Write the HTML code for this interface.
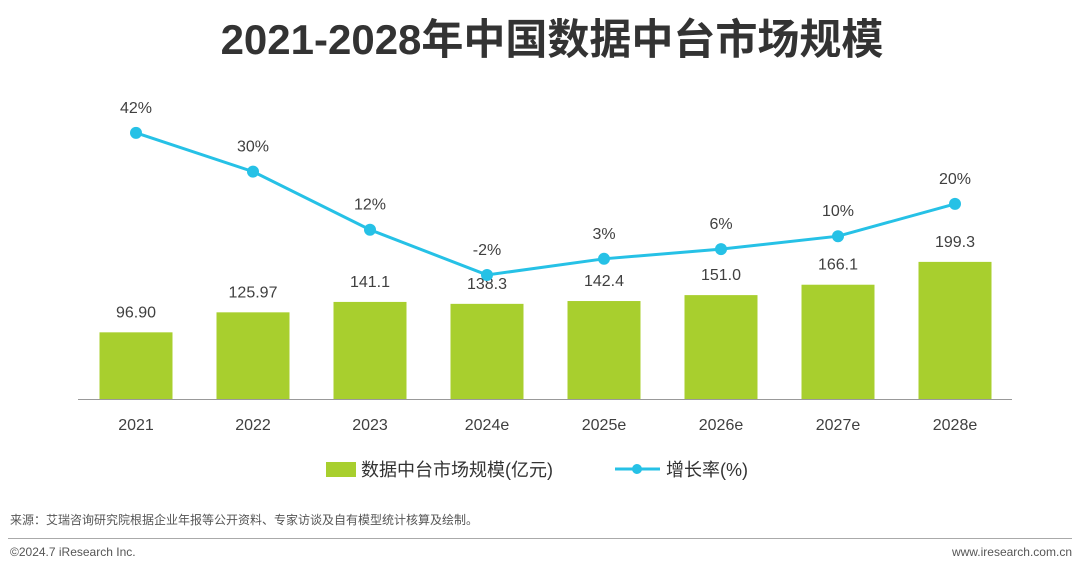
<!DOCTYPE html>
<html><head><meta charset="utf-8"><style>
body{margin:0;width:1080px;height:566px;background:#fff;overflow:hidden;font-family:"Liberation Sans","Noto Sans CJK SC",sans-serif}
</style></head><body>
<svg id="c" width="1080" height="566" xmlns="http://www.w3.org/2000/svg">
<text x="552" y="54" text-anchor="middle" font-size="42" font-weight="bold" fill="#333" font-family="Liberation Sans,Noto Sans CJK SC,sans-serif">2021-2028年中国数据中台市场规模</text>
<line x1="78" y1="399.5" x2="1012" y2="399.5" stroke="#999" stroke-width="1"/>
<g id="bars"></g><g id="line"></g>
<rect x="326" y="462" width="30" height="15" fill="#a8cf2e"/>
<text x="361" y="476" font-size="18" fill="#333">数据中台市场规模(亿元)</text>
<line x1="615" y1="469" x2="660" y2="469" stroke="#26c1e6" stroke-width="3"/>
<circle cx="637" cy="469" r="5" fill="#26c1e6"/>
<text x="666" y="476" font-size="18" fill="#333">增长率(%)</text>
<text x="10" y="524" font-size="12" fill="#555">来源：艾瑞咨询研究院根据企业年报等公开资料、专家访谈及自有模型统计核算及绘制。</text>
<line x1="8" y1="538.5" x2="1072" y2="538.5" stroke="#aaa"/>
<text x="10" y="556" font-size="12" fill="#555">©2024.7 iResearch Inc.</text>
<text x="1072" y="556" font-size="12" fill="#555" text-anchor="end">www.iresearch.com.cn</text>
</svg>
<script>
const categories=["2021","2022","2023","2024e","2025e","2026e","2027e","2028e"];
const barValues=[96.90,125.97,141.1,138.3,142.4,151.0,166.1,199.3];
const barLabels=["96.90","125.97","141.1","138.3","142.4","151.0","166.1","199.3"];
const growthValues=[42,30,12,-2,3,6,10,20];
const NS="http://www.w3.org/2000/svg";
const xPos=i=>136+i*117;
const yBar=v=>399-v*0.688;
const yLine=v=>268.5-v*3.23;
const bars=document.getElementById('bars'),line=document.getElementById('line');
function mk(tag,attrs,parent){const e=document.createElementNS(NS,tag);for(const k in attrs)e.setAttribute(k,attrs[k]);parent.appendChild(e);return e;}
categories.forEach((c,i)=>{
 const x=xPos(i),y=yBar(barValues[i]);
 const r=mk('rect',{x:x-36.5,y:y,width:73,height:399-y,fill:'#a8cf2e'},bars);
 
 
 const t=mk('text',{x:x,y:y-15,'text-anchor':'middle','font-size':16,fill:'#404040'},bars);t.textContent=barLabels[i];
 
 
 const xl=mk('text',{x:x,y:430,'text-anchor':'middle','font-size':16,fill:'#404040'},bars);xl.textContent=c;
 
 
});
const pts=growthValues.map((v,i)=>xPos(i)+','+yLine(v)).join(' ');
const pl=mk('polyline',{points:pts,fill:'none',stroke:'#26c1e6','stroke-width':3},line);


growthValues.forEach((v,i)=>{
 const x=xPos(i),y=yLine(v);
 const d=mk('circle',{cx:x,cy:y,r:6,fill:'#26c1e6'},line);
 
 
 const t=mk('text',{x:x,y:y-20,'text-anchor':'middle','font-size':16,fill:'#404040'},line);t.textContent=v+'%';
 
 
});
</script>
</body></html>
